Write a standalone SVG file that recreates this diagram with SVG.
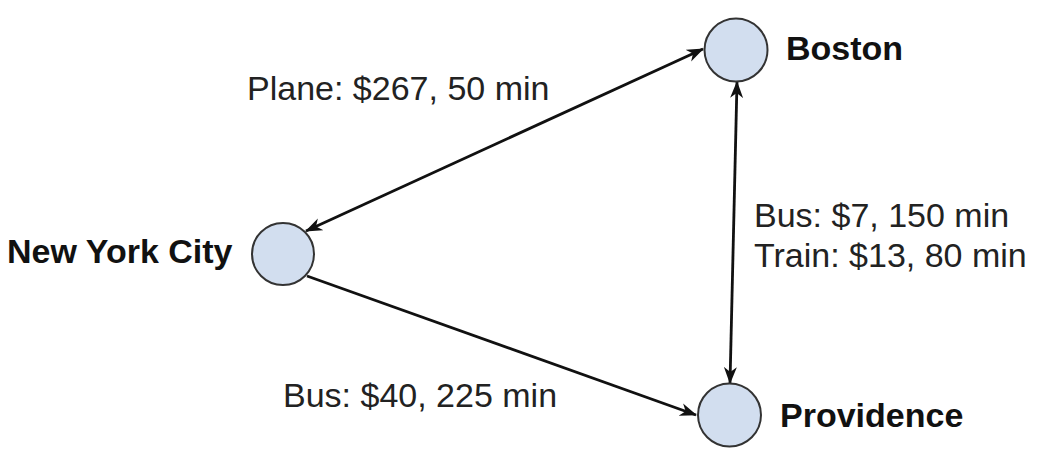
<svg xmlns="http://www.w3.org/2000/svg" width="1050" height="474" viewBox="0 0 1050 474">
  <defs>
    <style>
      .node { fill: #d2deef; stroke: #333333; stroke-width: 2; }
      .edge { fill: none; stroke: #111111; stroke-width: 2.8; }
      .lbl { font-family: "Liberation Sans", Arial, sans-serif; font-size: 34px; fill: #222222; }
      .name { font-family: "Liberation Sans", Arial, sans-serif; font-size: 34px; font-weight: bold; fill: #111111; }
    </style>
    <marker id="arr" viewBox="0 0 17 14" markerWidth="17" markerHeight="14" refX="16" refY="7" orient="auto-start-reverse" markerUnits="userSpaceOnUse">
      <path d="M0,0.5 L17,7 L0,13.5 L5,7 Z" fill="#111111"/>
    </marker>
  </defs>
  <rect width="1050" height="474" fill="#ffffff"/>
  <g id="connectors">
    <path class="edge" d="M306,231 L703,49" marker-start="url(#arr)" marker-end="url(#arr)"/>
    <path class="edge" d="M737,82 L730,383" marker-start="url(#arr)" marker-end="url(#arr)"/>
    <path class="edge" d="M307,276 L696,415" marker-end="url(#arr)"/>
  </g>
  <g id="labels">
    <text class="lbl" x="247" y="100">Plane: $267, 50 min</text>
    <text class="lbl" x="754" y="227">Bus: $7, 150 min</text>
    <text class="lbl" x="754" y="267">Train: $13, 80 min</text>
    <text class="lbl" x="283" y="407">Bus: $40, 225 min</text>
  </g>
  <g id="node-boston">
    <circle class="node" cx="736" cy="50" r="31.5"/>
    <text class="name" x="786" y="60">Boston</text>
  </g>
  <g id="node-nyc">
    <circle class="node" cx="283" cy="254" r="31"/>
    <text class="name" x="7" y="263">New York City</text>
  </g>
  <g id="node-providence">
    <circle class="node" cx="729.5" cy="415" r="31.5"/>
    <text class="name" x="780" y="427">Providence</text>
  </g>
</svg>
